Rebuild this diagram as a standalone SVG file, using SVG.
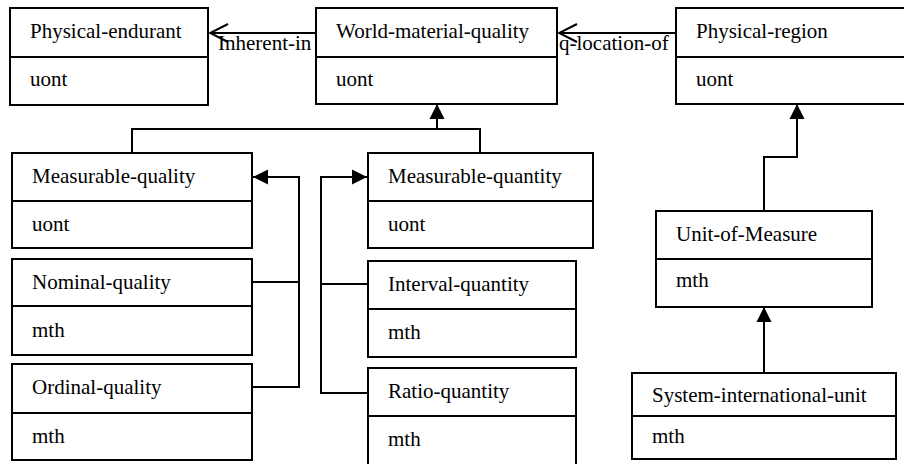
<svg xmlns="http://www.w3.org/2000/svg" width="904" height="464" viewBox="0 0 904 464">
<style>
.box{fill:#fff;stroke:#000;stroke-width:2}
.div{stroke:#000;stroke-width:2}
.t{font-family:"Liberation Serif","Times New Roman",serif;font-size:21px;fill:#000}
.c{fill:none;stroke:#000;stroke-width:2}
</style>
<defs>
<marker id="tri" markerUnits="userSpaceOnUse" markerWidth="16" markerHeight="16" viewBox="0 0 16 16" refX="15" refY="8" orient="auto">
<path d="M0,0.5 L15,8 L0,15.5 Z" fill="#000"/>
</marker>
<marker id="open" markerUnits="userSpaceOnUse" markerWidth="20" markerHeight="20" viewBox="0 0 20 20" refX="19" refY="10" orient="auto">
<path d="M1,1 L19,10 L1,19" fill="none" stroke="#000" stroke-width="2"/>
</marker>
</defs>
<rect width="904" height="464" fill="#fff"/>
<g id="connectors">
<path class="c" d="M316,33 H210" marker-end="url(#open)"/>
<path class="c" d="M676,33 H559" marker-end="url(#open)"/>
<path class="c" d="M132,153 V129 H480 V153"/>
<path class="c" d="M437,129 V104" marker-end="url(#tri)"/>
<path class="c" d="M252,282 H299"/>
<path class="c" d="M252,387 H299 V177 H253" marker-end="url(#tri)"/>
<path class="c" d="M368,284 H321"/>
<path class="c" d="M368,393 H321 V177 H367" marker-end="url(#tri)"/>
<path class="c" d="M764,211 V157 H797 V104" marker-end="url(#tri)"/>
<path class="c" d="M764,373 V307" marker-end="url(#tri)"/>
<text class="t" x="218" y="50">Inherent-in</text>
<text class="t" x="559" y="50">q-location-of</text>
</g>
<g id="physical-endurant">
<rect class="box" x="10" y="8" width="198" height="97"/>
<line class="div" x1="10" y1="57" x2="208" y2="57"/>
<text class="t" x="30" y="38">Physical-endurant</text>
<text class="t" x="30" y="86">uont</text>
</g>
<g id="world-material-quality">
<rect class="box" x="316" y="8" width="241" height="96"/>
<line class="div" x1="316" y1="57" x2="557" y2="57"/>
<text class="t" x="336" y="38">World-material-quality</text>
<text class="t" x="336" y="86">uont</text>
</g>
<g id="physical-region">
<rect class="box" x="676" y="8" width="232" height="96"/>
<line class="div" x1="676" y1="57" x2="908" y2="57"/>
<text class="t" x="696" y="38">Physical-region</text>
<text class="t" x="696" y="86">uont</text>
</g>
<g id="measurable-quality">
<rect class="box" x="12" y="153" width="240" height="95"/>
<line class="div" x1="12" y1="201" x2="252" y2="201"/>
<text class="t" x="32" y="183">Measurable-quality</text>
<text class="t" x="32" y="231">uont</text>
</g>
<g id="measurable-quantity">
<rect class="box" x="368" y="153" width="225" height="95"/>
<line class="div" x1="368" y1="201" x2="593" y2="201"/>
<text class="t" x="388" y="183">Measurable-quantity</text>
<text class="t" x="388" y="231">uont</text>
</g>
<g id="nominal-quality">
<rect class="box" x="12" y="259" width="240" height="96"/>
<line class="div" x1="12" y1="306" x2="252" y2="306"/>
<text class="t" x="32" y="289">Nominal-quality</text>
<text class="t" x="32" y="337">mth</text>
</g>
<g id="ordinal-quality">
<rect class="box" x="12" y="364" width="240" height="96"/>
<line class="div" x1="12" y1="413" x2="252" y2="413"/>
<text class="t" x="32" y="394">Ordinal-quality</text>
<text class="t" x="32" y="443">mth</text>
</g>
<g id="interval-quantity">
<rect class="box" x="368" y="261" width="208" height="96"/>
<line class="div" x1="368" y1="309" x2="576" y2="309"/>
<text class="t" x="388" y="291">Interval-quantity</text>
<text class="t" x="388" y="339">mth</text>
</g>
<g id="ratio-quantity">
<rect class="box" x="368" y="368" width="208" height="98"/>
<line class="div" x1="368" y1="416" x2="576" y2="416"/>
<text class="t" x="388" y="398">Ratio-quantity</text>
<text class="t" x="388" y="446">mth</text>
</g>
<g id="unit-of-measure">
<rect class="box" x="656" y="211" width="216" height="96"/>
<line class="div" x1="656" y1="259" x2="872" y2="259"/>
<text class="t" x="676" y="241">Unit-of-Measure</text>
<text class="t" x="676" y="287">mth</text>
</g>
<g id="system-international-unit">
<rect class="box" x="632" y="373" width="264" height="86"/>
<line class="div" x1="632" y1="416" x2="896" y2="416"/>
<text class="t" x="652" y="402">System-international-unit</text>
<text class="t" x="652" y="443">mth</text>
</g>
</svg>
